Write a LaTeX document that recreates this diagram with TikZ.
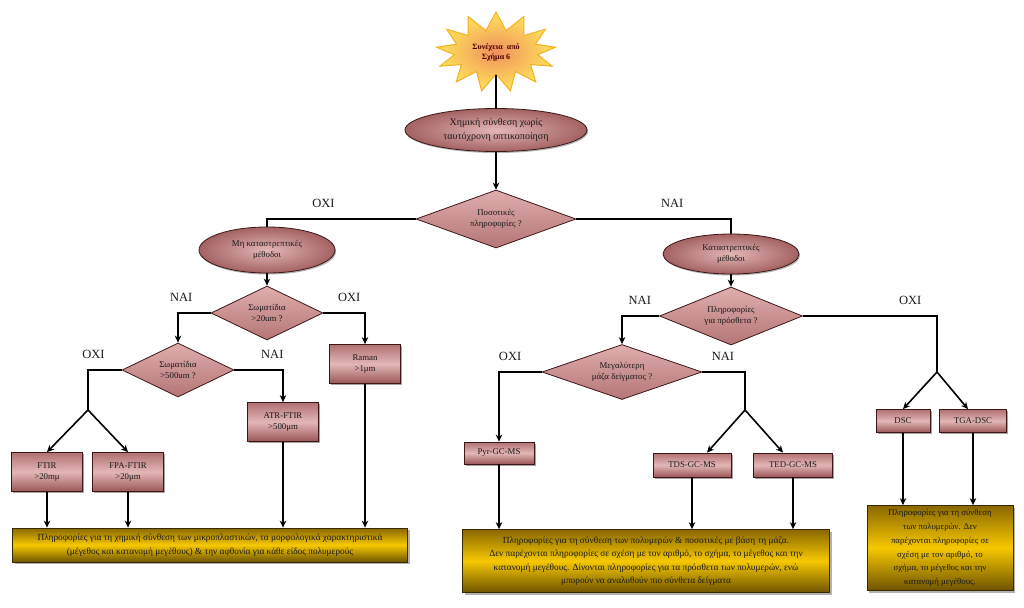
\documentclass[tikz,border=0pt]{standalone}
\usepackage{fontspec}
\setmainfont{Liberation Serif}
\usetikzlibrary{positioning, shapes.geometric, shapes.symbols, shadows, arrows.meta}

\definecolor{rosy}{HTML}{DCA4A4}
\definecolor{rosydark}{HTML}{9A5656}
\definecolor{rosyedge}{HTML}{3E1818}
\definecolor{goldmid}{HTML}{F6C800}
\definecolor{golddark}{HTML}{8A6800}
\definecolor{starin}{HTML}{F0905E}
\definecolor{starout}{HTML}{FFE45A}
\definecolor{staredge}{HTML}{F4B020}

\begin{document}
\begin{tikzpicture}[x=1pt, y=1pt, on grid,
  every node/.style={text=black!90},
  nodetext/.style={font=\fontsize{8.8}{10.8}\selectfont, align=center},
  burst/.style={starburst, starburst points=13, starburst point height=18pt,
    random starburst=0, draw=staredge, line width=1pt, inner color=starin,
    outer color=starout, minimum width=120pt, minimum height=80pt,
    font=\bfseries\fontsize{8}{10}\selectfont, align=center, text=red!30!black},
  method/.style={ellipse, inner sep=1pt, draw=rosyedge, line width=0.8pt,
    inner color=rosy!80!white, outer color=rosydark!85!rosy, nodetext,
    drop shadow={shadow xshift=1pt, shadow yshift=-1.5pt, fill=black!60}},
  decision/.style={diamond, aspect=2.6, inner sep=0pt, draw=rosyedge,
    line width=0.8pt, top color=rosy!90!white, bottom color=rosydark!60!rosy, nodetext},
  technique/.style={rectangle, inner sep=2pt, draw=rosyedge, line width=0.8pt,
    top color=rosydark!65!rosy, bottom color=rosydark, middle color=rosy!80!white, nodetext,
    drop shadow={shadow xshift=1.5pt, shadow yshift=-1.5pt, fill=black!70}},
  result/.style={rectangle, inner sep=2pt, draw=golddark!40!black, line width=0.8pt,
    top color=golddark, bottom color=golddark!80!black, middle color=goldmid,
    font=\fontsize{9.3}{13.5}\selectfont, align=center,
    drop shadow={shadow xshift=2pt, shadow yshift=-2pt, fill=black!60}},
  flow/.style={line width=1.6pt},
  arrow/.style={flow, -{Stealth[length=7pt, width=6.5pt]}},
  answer/.style={font=\fontsize{12.5}{14}\selectfont, above=10pt, inner sep=1pt}]

\fill[white] (0,0) rectangle (1024,-607);
\useasboundingbox (0,0) rectangle (1024,-607);

% top of the chart
\node[burst] (start) at (496,-52) {Συνέχεια\ \ από\\Σχήμα 6};
\node[method, minimum width=182pt, minimum height=43pt,
  font=\fontsize{10}{14}\selectfont, below=78pt of start] (chem)
  {Χημική σύνθεση χωρίς\\ταυτόχρονη οπτικοποίηση};
\node[decision, minimum width=160pt, minimum height=58pt, below=89pt of chem] (q1)
  {Ποσοτικές\\πληροφορίες ?};

% non destructive branch
\node[method, minimum width=136pt, minimum height=46pt,
  below left=31pt and 229pt of q1] (nd) {Μη καταστρεπτικές\\μέθοδοι};
\node[decision, minimum width=112pt, minimum height=54pt, below=63pt of nd] (q2)
  {Σωματίδια\\>20um ?};
\node[decision, minimum width=112pt, minimum height=54pt,
  below left=57pt and 89pt of q2] (q4) {Σωματίδια\\>500um ?};
\node[technique, minimum width=71pt, minimum height=39pt,
  below right=51pt and 98pt of q2] (raman) {Raman\\>1μm};
\node[technique, minimum width=71pt, minimum height=39pt,
  below right=52pt and 105pt of q4] (atr) {ATR-FTIR\\>500μm};
\node[technique, minimum width=71pt, minimum height=39pt,
  below left=102pt and 131pt of q4] (ftir) {FTIR\\>20mμ};
\node[technique, minimum width=71pt, minimum height=39pt, right=81pt of ftir] (fpa)
  {FPA-FTIR\\>20μm};
\node[result, minimum width=395pt, minimum height=34pt,
  below right=73pt and 163pt of ftir] (res1)
  {Πληροφορίες για τη χημική σύνθεση των μικροπλαστικών, τα μορφολογικά χαρακτηριστικά\\
   (μέγεθος και κατανομή μεγέθους) \& την αφθονία για κάθε είδος πολυμερούς};
\coordinate[below left=40pt and 90pt of q4] (ftirfork);

% destructive branch
\node[method, minimum width=136pt, minimum height=40pt,
  below right=35pt and 235pt of q1] (d) {Καταστρεπτικές\\μέθοδοι};
\node[decision, minimum width=143pt, minimum height=58pt, below=62pt of d] (q3)
  {Πληροφορίες\\για πρόσθετα ?};
\node[decision, minimum width=160pt, minimum height=55pt,
  below left=56pt and 109pt of q3] (q5) {Μεγαλύτερη\\μάζα δείγματος ?};
\node[technique, minimum width=70pt, minimum height=22pt,
  below left=81pt and 123pt of q5] (pyr) {Pyr-GC-MS};
\node[technique, minimum width=78pt, minimum height=24pt,
  below right=93pt and 70pt of q5] (tds) {TDS-GC-MS};
\node[technique, minimum width=79pt, minimum height=24pt, right=101pt of tds] (ted)
  {TED-GC-MS};
\node[result, minimum width=367pt, minimum height=63pt,
  below right=108pt and 147pt of pyr] (res2)
  {Πληροφορίες για τη σύνθεση των πολυμερών \& ποσοτικές με βάση τη μάζα.\\
   Δεν παρέχονται πληροφορίες σε σχέση με τον αριθμό, το σχήμα, το μέγεθος και την\\
   κατανομή μεγέθους. Δίνονται πληροφορίες για τα πρόσθετα των πολυμερών, ενώ\\
   μπορούν να αναλυθούν πιο σύνθετα δείγματα};
\node[technique, minimum width=54pt, minimum height=23pt,
  below right=105pt and 172pt of q3] (dsc) {DSC};
\node[technique, minimum width=67pt, minimum height=23pt, right=70pt of dsc] (tga)
  {TGA-DSC};
\node[result, minimum width=146pt, minimum height=85pt,
  font=\fontsize{8.8}{13.8}\selectfont, below right=127pt and 37pt of dsc] (res3)
  {Πληροφορίες για τη σύνθεση\\των πολυμερών. Δεν\\παρέχονται πληροφορίες σε\\
   σχέση με τον αριθμό, το\\σχήμα, το μέγεθος και την\\κατανομή μεγέθους.};
\coordinate[below right=38pt and 123pt of q5] (gcfork);
\coordinate[below right=56pt and 206pt of q3] (dscfork);

% connectors
\draw[flow] (start.south) -- (chem.north);
\draw[arrow] (chem) -- (q1);
\draw[flow] (q1.west) -| node[answer, pos=0.31] {ΟΧΙ} (nd.north);
\draw[flow] (q1.east) -| node[answer, pos=0.31] {ΝΑΙ} (d.north);
\draw[arrow] (nd) -- (q2);
\draw[arrow] (d) -- (q3);

\draw[arrow] (q2.west) -| node[answer, pos=0.45] {ΝΑΙ} (q4.north);
\draw[arrow] (q2.east) -| node[answer, pos=0.31] {ΟΧΙ} (raman.north);
\draw[flow] (q4.west) -| node[answer, pos=0.42] {ΟΧΙ} (ftirfork);
\draw[arrow] (q4.east) -| node[answer, pos=0.39] {ΝΑΙ} (atr.north);
\draw[arrow] (ftirfork) -- (ftir.north);
\draw[arrow] (ftirfork) -- (fpa.north);
\foreach \n in {ftir, fpa, atr, raman}
  \draw[arrow] (\n.south) -- (\n.south |- res1.north);

\draw[arrow] (q3.west) -| node[answer, pos=0.26] {ΝΑΙ} (q5.north);
\draw[flow] (q3.east) -| node[answer, pos=0.4] {ΟΧΙ} (dscfork);
\draw[arrow] (q5.west) -| node[answer, pos=0.37] {ΟΧΙ} (pyr.north);
\draw[flow] (q5.east) -| node[answer, pos=0.24] {ΝΑΙ} (gcfork);
\draw[arrow] (gcfork) -- ([xshift=15pt]tds.north);
\draw[arrow] (gcfork) -- ([xshift=-10pt]ted.north);
\draw[arrow] (dscfork) -- (dsc.north);
\draw[arrow] (dscfork) -- ([xshift=-5pt]tga.north);
\foreach \n in {pyr, tds, ted}
  \draw[arrow] (\n.south) -- (\n.south |- res2.north);
\foreach \n in {dsc, tga}
  \draw[arrow] (\n.south) -- (\n.south |- res3.north);

\end{tikzpicture}
\end{document}
